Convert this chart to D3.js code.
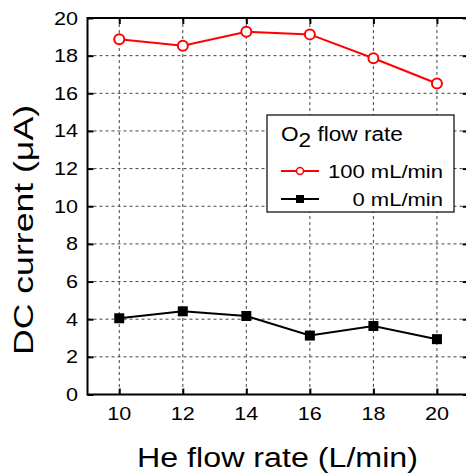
<!DOCTYPE html>
<html><head><meta charset="utf-8">
<script src="https://cdn.jsdelivr.net/npm/d3@7"></script>
<style>body{margin:0;background:#fff}svg{display:block}text{font-family:"Liberation Sans",Arial,sans-serif;fill:#000}</style>
</head><body><svg id="c" width="466" height="475"></svg>
<script>
const heFlow = [10, 12, 14, 16, 18, 20];
const o2_100 = [18.87, 18.53, 19.27, 19.13, 17.86, 16.52];
const o2_0 = [4.05, 4.42, 4.17, 3.13, 3.64, 2.94];
const xTicks = [10, 12, 14, 16, 18, 20];
const yTicks = [0, 2, 4, 6, 8, 10, 12, 14, 16, 18, 20];
const seriesNames = ["100 mL/min", "0 mL/min"];

const svg = d3.select("#c");
const x = d3.scaleLinear().domain([9, 21]).range([87.5, 468.7]);
const y = d3.scaleLinear().domain([0, 20]).range([394.5, 18]);
const L = 87.5, R = 468.7, T = 18, B = 394.5;
const SX = 1.2;

// grid
const g = svg.append("g");
g.selectAll(".hg").data(yTicks.filter(d => d > 0 && d < 20)).join("line")
  .attr("x1", L).attr("x2", R).attr("y1", d => y(d)).attr("y2", d => y(d))
  .attr("stroke", "#444").attr("stroke-width", 1).attr("stroke-dasharray", "3,3");
g.selectAll(".vg").data(xTicks).join("line")
  .attr("x1", d => x(d)).attr("x2", d => x(d)).attr("y1", T).attr("y2", B)
  .attr("stroke", "#444").attr("stroke-width", 1).attr("stroke-dasharray", "3,3");

// axes (ticks inward)
svg.append("g").attr("transform", `translate(0,${B})`)
  .call(d3.axisBottom(x).tickValues(xTicks).tickSize(-6).tickFormat(""))
  .call(a => a.select(".domain").remove());
svg.append("g").attr("transform", `translate(0,${T})`)
  .call(d3.axisTop(x).tickValues(xTicks).tickSize(-6).tickFormat(""))
  .call(a => a.select(".domain").remove());
svg.append("g").attr("transform", `translate(${L},0)`)
  .call(d3.axisLeft(y).tickValues(yTicks).tickSize(-6).tickFormat(""))
  .call(a => a.select(".domain").remove());
svg.append("g").attr("transform", `translate(${R},0)`)
  .call(d3.axisRight(y).tickValues(yTicks).tickSize(-6).tickFormat(""))
  .call(a => a.select(".domain").remove());
svg.selectAll(".tick line").attr("stroke", "#000").attr("stroke-width", 2);

// frame
svg.append("rect").attr("x", L).attr("y", T).attr("width", R - L).attr("height", B - T)
  .attr("fill", "none").attr("stroke", "#000").attr("stroke-width", 2);

// tick labels
svg.selectAll(".xl").data(xTicks).join("text")
  .attr("transform", d => `translate(${x(d)},420) scale(${SX},1)`)
  .attr("text-anchor", "middle").attr("font-size", 18).text(d => d);
svg.selectAll(".yl").data(yTicks).join("text")
  .attr("transform", d => `translate(78,${y(d) + 6.5}) scale(${SX},1)`)
  .attr("text-anchor", "end").attr("font-size", 18).text(d => d);

// axis titles
svg.append("text").attr("x", 277.5).attr("y", 467).attr("text-anchor", "middle")
  .attr("font-size", 27).attr("textLength", 281).attr("lengthAdjust", "spacingAndGlyphs")
  .text("He flow rate (L/min)");
svg.append("text").attr("transform", "translate(33,230) rotate(-90)").attr("text-anchor", "middle")
  .attr("font-size", 27).attr("textLength", 250).attr("lengthAdjust", "spacingAndGlyphs")
  .text("DC current (μA)");

// lines
const line = d3.line().x((d, i) => x(heFlow[i])).y(d => y(d));
svg.append("path").datum(o2_100).attr("d", line).attr("fill", "none").attr("stroke", "#ff0000").attr("stroke-width", 2);
svg.append("path").datum(o2_0).attr("d", line).attr("fill", "none").attr("stroke", "#000").attr("stroke-width", 2);
svg.selectAll(".rc").data(o2_100).join("circle")
  .attr("cx", (d, i) => x(heFlow[i])).attr("cy", d => y(d)).attr("r", 5)
  .attr("fill", "#fff").attr("stroke", "#ff0000").attr("stroke-width", 2);
svg.selectAll(".bs").data(o2_0).join("rect")
  .attr("x", (d, i) => x(heFlow[i]) - 5).attr("y", d => y(d) - 5).attr("width", 10).attr("height", 10)
  .attr("fill", "#000");

// legend
const lg = svg.append("g");
lg.append("rect").attr("x", 267).attr("y", 115).attr("width", 187).attr("height", 97)
  .attr("fill", "#fff").attr("stroke", "#000").attr("stroke-width", 1.2);
const t = lg.append("text").attr("transform", `translate(281,141) scale(1.16,1)`).attr("font-size", 19.5);
t.append("tspan").text("O");
t.append("tspan").attr("dy", 6).text("2");
t.append("tspan").attr("dy", -6).text(" flow rate");
const items = [{c: "#ff0000", y: 171}, {c: "#000", y: 199}];
items.forEach((it, i) => {
  lg.append("line").attr("x1", 281).attr("x2", 319).attr("y1", it.y).attr("y2", it.y)
    .attr("stroke", it.c).attr("stroke-width", 2);
  if (i === 0) lg.append("circle").attr("cx", 300).attr("cy", it.y).attr("r", 3.5)
    .attr("fill", "#fff").attr("stroke", it.c).attr("stroke-width", 1.5);
  else lg.append("rect").attr("x", 296).attr("y", it.y - 4).attr("width", 8).attr("height", 8).attr("fill", "#000");
  lg.append("text").attr("transform", `translate(443,${it.y + 6.5}) scale(1.16,1)`)
    .attr("text-anchor", "end").attr("font-size", 19).text(seriesNames[i]);
});
</script></body></html>
